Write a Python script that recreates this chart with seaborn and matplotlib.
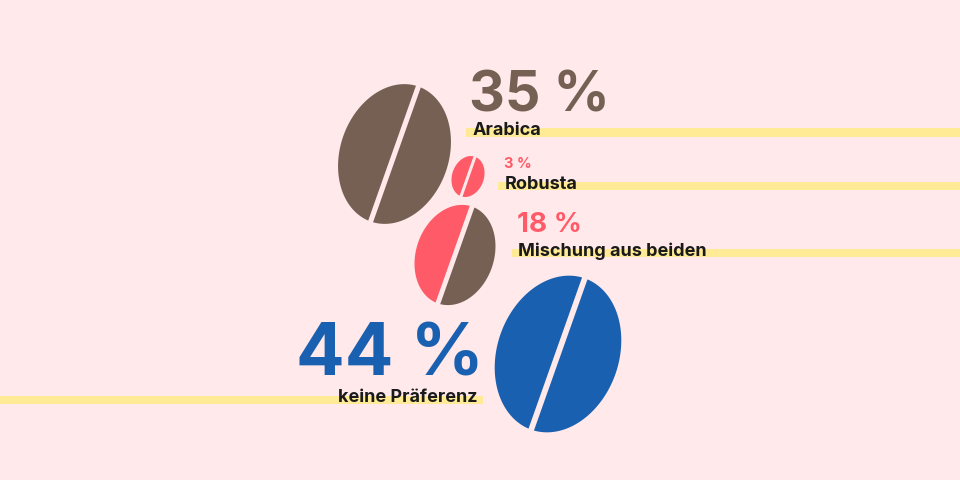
import numpy as np
import matplotlib
matplotlib.use("Agg")
import matplotlib.pyplot as plt
import seaborn as sns

# Umfrage Kaffeesorten
labels = ["Arabica", "Robusta", "Mischung aus beiden", "keine Präferenz"]
values = [35, 3, 18, 44]

# layout in pixels
bean_x = [394.5, 468, 455, 558]
bean_y = [154, 176.5, 255, 354]
left_colors = ["#766054", "#ff5a68", "#ff5a68", "#1a60b0"]
right_colors = ["#766054", "#ff5a68", "#766054", "#1a60b0"]
text_colors = ["#766054", "#ff5a68", "#ff5a68", "#1a60b0"]
pct_x = [469, 504, 517, 296]
pct_y = [112, 168, 232, 376]
pct_size = [40, 10.5, 20, 52]
label_x = [473, 505, 518, 477]
label_y = [135, 189, 256, 402]
label_ha = ["left", "left", "left", "right"]
band_left = [466, 498, 512, 0]
band_right = [960, 960, 960, 483]
band_y = [132.5, 186, 253, 400]

BG = "#ffe9ea"
YELLOW = "#ffea96"
TILT = np.radians(19.5)

sns.set_theme(style="white", rc={"figure.facecolor": BG, "axes.facecolor": BG})
plt.rcParams["font.family"] = ["Inter", "DejaVu Sans"]

fig, ax = plt.subplots(figsize=(9.6, 4.8), dpi=100)
fig.subplots_adjust(0, 0, 1, 1)


def half_bean(cx, cy, value, side, color):
    r = np.sqrt(value)
    a = 9.17 * r
    b = 12.1 * r
    gap = 1.0 + 0.2 * r
    t = np.linspace(-np.pi / 2, np.pi / 2, 200)
    u = a * np.cos(t)
    v = b * np.sin(t)
    keep = u > gap
    u = u[keep] * side
    v = v[keep]
    # along the axis, top leaning right
    x = cx + u * np.cos(TILT) + v * np.sin(TILT)
    y = cy + u * np.sin(TILT) - v * np.cos(TILT)
    ax.fill(x, y, color=color, lw=0, zorder=3)


# yellow bands under the labels
for left, right, y in zip(band_left, band_right, band_y):
    sns.barplot(x=[right - left], y=[y], orient="h", native_scale=True,
                left=left, width=8.5, color=YELLOW, saturation=1, linewidth=0, ax=ax, zorder=1)

for i, val in enumerate(values):
    half_bean(bean_x[i], bean_y[i], val, -1, left_colors[i])
    half_bean(bean_x[i], bean_y[i], val, 1, right_colors[i])
    ax.text(pct_x[i], pct_y[i], f"{val} %", color=text_colors[i],
            fontsize=pct_size[i], fontweight="bold", ha="left", va="baseline", zorder=4)
    ax.text(label_x[i], label_y[i], labels[i], color="#1a1a1a", fontsize=13,
            fontweight="bold", ha=label_ha[i], va="baseline", zorder=4)

ax.set_xlim(0, 960)
ax.set_ylim(480, 0)
ax.set_xlabel("")
ax.set_ylabel("")
ax.axis("off")
fig.savefig("out.png", dpi=100, facecolor=BG)
